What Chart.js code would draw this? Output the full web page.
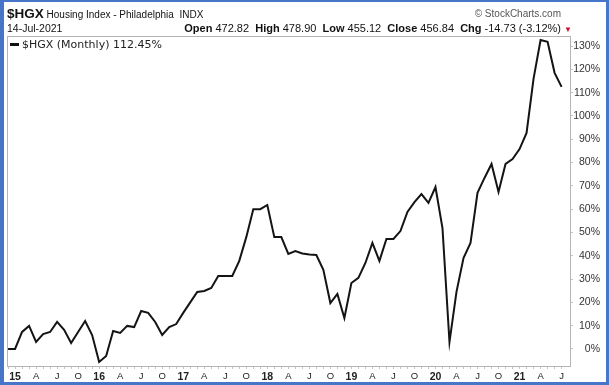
<!DOCTYPE html>
<html>
<head>
<meta charset="utf-8">
<title>$HGX Housing Index - Philadelphia</title>
<script src="https://cdn.jsdelivr.net/npm/chart.js@4"></script>
<style>
    html, body { margin: 0; padding: 0; background: #fff; }
    #wrap { position: relative; width: 609px; height: 385px; overflow: hidden; }
    #hgxChart { position: absolute; left: 0; top: 0; }
    .hdr { position: absolute; white-space: nowrap; font-family: "Liberation Sans", Arial, sans-serif; color: #111; line-height: 14px; }
    #hdrSym  { left: 7px; top: 7px; font-size: 10px; }
    #hdrSym .sym { font-size: 13.5px; font-weight: bold; }
    #hdrSrc  { right: 48px; top: 7px; font-size: 10px; color: #555; }
    #hdrDate { left: 7px; top: 21px; font-size: 10.5px; }
    #hdrQuote { right: 37px; top: 21px; font-size: 11px; }
    #hdrQuote .dn { color: #c8102e; font-size: 8px; }
    #legendBox { position: absolute; left: 10px; top: 38px; line-height: 12px; font: 11px "DejaVu Sans", Verdana, sans-serif; color: #222; white-space: nowrap; }
    #legendBox .swatch { display: inline-block; width: 9px; height: 3px; background: #111; vertical-align: middle; margin: -2px 3px 0 0; }
    #frame { position: absolute; inset: 0; box-sizing: border-box; border: 3px solid #4675c9; border-left-width: 4px; border-top-width: 2px; pointer-events: none; }
</style>
</head>
<body>
<div id="wrap">
    <canvas id="hgxChart" width="609" height="385"></canvas>
    <div class="hdr" id="hdrSym"><span class="sym">$HGX</span> Housing Index - Philadelphia&nbsp; INDX</div>
    <div class="hdr" id="hdrSrc">© StockCharts.com</div>
    <div class="hdr" id="hdrDate">14-Jul-2021</div>
    <div class="hdr" id="hdrQuote"><b>Open</b> 472.82&nbsp; <b>High</b> 478.90&nbsp; <b>Low</b> 455.12&nbsp; <b>Close</b> 456.84&nbsp; <b>Chg</b> -14.73 (-3.12%) <span class="dn">▼</span></div>
    <div id="legendBox"><span class="swatch"></span>$HGX (Monthly) 112.45%</div>
    <div id="frame"></div>
</div>
<script>
// ─── Data (monthly close, % change since Dec 2014) ───────────────────────────
const months = [
    '2014-12',
    '2015-01', '2015-02', '2015-03', '2015-04', '2015-05', '2015-06', '2015-07', '2015-08', '2015-09', '2015-10', '2015-11', '2015-12',
    '2016-01', '2016-02', '2016-03', '2016-04', '2016-05', '2016-06', '2016-07', '2016-08', '2016-09', '2016-10', '2016-11', '2016-12',
    '2017-01', '2017-02', '2017-03', '2017-04', '2017-05', '2017-06', '2017-07', '2017-08', '2017-09', '2017-10', '2017-11', '2017-12',
    '2018-01', '2018-02', '2018-03', '2018-04', '2018-05', '2018-06', '2018-07', '2018-08', '2018-09', '2018-10', '2018-11', '2018-12',
    '2019-01', '2019-02', '2019-03', '2019-04', '2019-05', '2019-06', '2019-07', '2019-08', '2019-09', '2019-10', '2019-11', '2019-12',
    '2020-01', '2020-02', '2020-03', '2020-04', '2020-05', '2020-06', '2020-07', '2020-08', '2020-09', '2020-10', '2020-11', '2020-12',
    '2021-01', '2021-02', '2021-03', '2021-04', '2021-05', '2021-06', '2021-07'
];

const pctChange = [
    0,
    0, 7.3, 9.9, 3, 6.4, 7.3, 11.6, 8.2, 2.6, 7.3, 12, 6,
    -5.6, -3, 7.7, 6.9, 9.9, 9.4, 16.3, 15.5, 11.6, 6, 9.4, 10.7,
    15.5, 20, 24.5, 24.9, 26.2, 31.3, 31.3, 31.3, 37.8, 48, 60, 60,
    61.8, 48, 48, 40.8, 42, 41, 40.5, 40.3, 34, 19.7, 23.6, 13.3,
    28.3, 30.5, 36.9, 45.5, 37.8, 47.2, 47.2, 50.6, 58.8, 63, 66.5, 62.7,
    69.5, 51.9, 3, 24.5, 39, 45.5, 67, 73.4, 79.4, 67.4, 79.4, 81.5,
    85.8, 92.7, 116, 132.6, 131.8, 118.5, 112.45
];

// quarter months get a label; January shows the two-digit year
const quarterLetters = { '01': null, '04': 'A', '07': 'J', '10': 'O' };
const yTicks = [0, 10, 20, 30, 40, 50, 60, 70, 80, 90, 100, 110, 120, 130];

(function () {
    'use strict';

    const FONT = '"Liberation Sans", Arial, sans-serif';

    function monthLabel(i) {
        const m = months[i];
        if (!m) return '';
        const mm = m.slice(5);
        if (!(mm in quarterLetters)) return '';
        return quarterLetters[mm] === null ? m.slice(2, 4) : quarterLetters[mm];
    }

    function isYearTick(i) {
        return months[i] && months[i].slice(5) === '01';
    }

    // ─── Plot frame (top + left edges; axes draw bottom + right) ─────────────
    const frameBox = {
        id: 'frameBox',
        afterDraw(chart) {
            const a = chart.chartArea, ctx = chart.ctx;
            ctx.save();
            ctx.strokeStyle = '#b5b5b5';
            ctx.lineWidth = 1;
            ctx.strokeRect(a.left + 0.5, a.top + 0.5, a.right - a.left, a.bottom - a.top);
            ctx.restore();
        }
    };

    new Chart(document.getElementById('hgxChart'), {
        type: 'line',
        data: {
            datasets: [{
                label: '$HGX (Monthly)',
                data: pctChange.map((v, i) => ({ x: i, y: v })),
                borderColor: '#141414',
                borderWidth: 2,
                pointRadius: 0,
                tension: 0,
                fill: false,
            }],
        },
        options: {
            responsive: false,
            animation: false,
            layout: { padding: { left: 7, top: 36, right: 9, bottom: 3 } },
            plugins: { legend: { display: false }, tooltip: { enabled: false } },
            scales: {
                x: {
                    type: 'linear',
                    min: -0.15,
                    max: 80.2,
                    afterBuildTicks: s => { s.ticks = months.map((m, i) => ({ value: i })); },
                    afterFit: s => { s.height = 16; },
                    grid: { drawOnChartArea: false, tickLength: 3, color: '#c4c4c4' },
                    border: { color: '#b5b5b5' },
                    ticks: {
                        autoSkip: false,
                        maxRotation: 0,
                        padding: 2,
                        color: '#222',
                        font: c => isYearTick(c.tick && c.tick.value)
                            ? { family: FONT, size: 10.5, weight: 'bold' }
                            : { family: FONT, size: 9.5 },
                        callback: v => monthLabel(v),
                    },
                },
                y: {
                    position: 'right',
                    min: -7.3,
                    max: 134.3,
                    afterBuildTicks: s => { s.ticks = yTicks.map(v => ({ value: v })); },
                    afterFit: s => { s.width = 30; },
                    grid: { drawOnChartArea: false, tickLength: 3, color: '#c4c4c4' },
                    border: { color: '#b5b5b5' },
                    ticks: {
                        crossAlign: 'far',
                        padding: 3,
                        color: '#333',
                        font: { family: FONT, size: 10.5 },
                        callback: v => v + '%',
                    },
                },
            },
        },
        plugins: [frameBox],
    });
})();
</script>
</body>
</html>
